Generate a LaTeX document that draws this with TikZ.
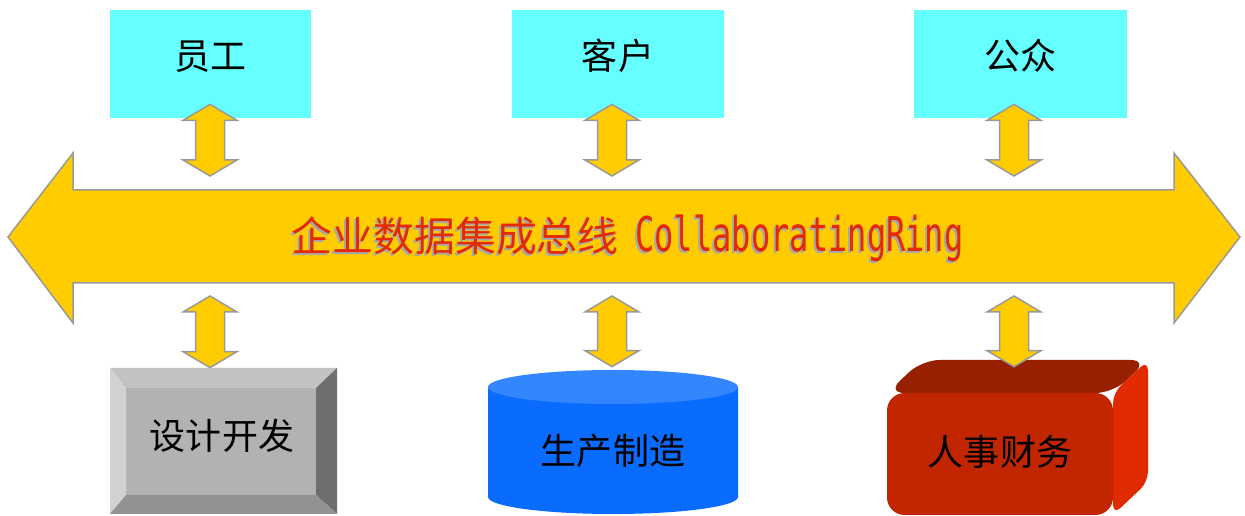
\documentclass[tikz,border=0pt]{standalone}
\usepackage{fontspec}
\setmainfont{Noto Sans CJK SC}
\newfontfamily\ringfont[Scale=1.17,FakeStretch=0.67]{DejaVu Sans Mono}
\usepackage{xcolor}
\definecolor{skycyan}{HTML}{66FFFF}
\definecolor{busyellow}{HTML}{FFCC00}
\definecolor{edgegray}{HTML}{999999}
\definecolor{ringred}{HTML}{E42A00}
\definecolor{shadowgray}{HTML}{A8A8A8}
\definecolor{bevellight}{HTML}{D2D2D2}
\definecolor{beveltop}{HTML}{C2C2C2}
\definecolor{bevelface}{HTML}{B2B2B2}
\definecolor{bevelbottom}{HTML}{929292}
\definecolor{beveldark}{HTML}{6E6E6E}
\definecolor{drumblue}{HTML}{0A6CFF}
\definecolor{drumtop}{HTML}{3486FF}
\definecolor{boxfront}{HTML}{C22600}
\definecolor{boxtop}{HTML}{962000}
\definecolor{boxside}{HTML}{E02A00}
\usetikzlibrary{calc}
\newcommand{\px}{0.02cm}
\newcommand{\ringtext}{企业数据集成总线\hspace{0.4em}{\ringfont CollaboratingRing}}
\newcommand{\updown}[2]{% #1 top tip, #2 bottom tip
  \draw[linkarrow] (#1) -- ++(27,16) -- ++(-12.5,0) -- ($(#2)+(14.5,-16)$) -- ++(12.5,0) -- (#2)
    -- ++(-27,-16) -- ++(12.5,0) -- ($(#1)+(-14.5,16)$) -- ++(-12.5,0) -- cycle;}

\begin{document}
\begin{tikzpicture}[x=\px,y=-\px,every node/.style={inner sep=0},
    topbox/.style={fill=skycyan,minimum height=108*\px,text height=0.8em,text depth=0.14em,
        font=\fontsize{20.5}{24}\selectfont},
    unitbox/.style={minimum width=226*\px,font=\fontsize{20.5}{24}\selectfont},
    ringlabel/.style={font=\fontsize{23.3}{26}\selectfont},
    linkarrow/.style={fill=busyellow,draw=edgegray,line width=1.5*\px}]
        \useasboundingbox (0,0) rectangle (1245,516);
        
        \node[topbox,minimum width=201*\px] (yuangong) at (210.5,64) {员工};
        \node[topbox,minimum width=212*\px] (kehu) at (618,64) {客户};
        \node[topbox,minimum width=213*\px] (gongzhong) at (1020.5,64) {公众};
        
        % bus
        \draw[linkarrow] (8,237) -- (73,153) -- (73,190) -- (1174,190) -- (1174,153) -- (1240,237)
            -- (1174,323) -- (1174,283) -- (73,283) -- (73,323) -- cycle;
        \node[ringlabel,text=shadowgray] (busshadow) at (625.5,240) {\ringtext};
        \node[ringlabel,text=ringred] (bus) at (627.5,238) {\ringtext};
        
        % bevel box
        \fill[bevelface] (126,388) rectangle (316,495);
        \fill[beveltop] (110,368) -- (337,368) -- (316,388) -- (126,388) -- cycle;
        \fill[bevellight] (110,368) -- (126,388) -- (126,495) -- (110,514) -- cycle;
        \fill[beveldark] (337,368) -- (337,514) -- (316,495) -- (316,388) -- cycle;
        \fill[bevelbottom] (110,514) -- (337,514) -- (316,495) -- (126,495) -- cycle;
        \node[unitbox,minimum height=136*\px] (sheji) at (222,436) {设计开发};
        
        % drum
        \fill[drumblue] (488,387) -- (488,497) arc[start angle=180,end angle=0,x radius=125,y radius=17]
            -- (738,387) -- cycle;
        \fill[drumtop] (613,387) ellipse[x radius=125,y radius=17];
        \node[unitbox,minimum height=168*\px] (shengchan) at (613,451) {生产制造};
        
        % block
        \fill[boxtop,rounded corners=10] (887,393) -- (922,360) -- (1148,360) -- (1113,393) -- cycle;
        \fill[boxside,rounded corners=6] (1113,393) -- (1148,360) -- (1148,482) -- (1113,515) -- cycle;
        \fill[boxfront,rounded corners=10] (887,393) rectangle (1113,515);
        \node[unitbox,minimum height=170*\px] (renshi) at (1000,452) {人事财务};
        
        \foreach \i/\x/\up/\down in {1/210/yuangong/sheji,2/612/kehu/shengchan,3/1014/gongzhong/renshi}{
            \coordinate (busN\i) at (\x,190);
            \coordinate (busS\i) at (\x,283);
            \coordinate (topA\i) at ($(\up.south -| busN\i)+(0,-14)$);
            \coordinate (topB\i) at ($(busN\i)+(0,-14)$);
            \coordinate (botA\i) at ($(busS\i)+(0,13)$);
            \coordinate (botB\i) at (\down.north -| busS\i);
            \updown{topA\i}{topB\i}
            \updown{botA\i}{botB\i}
        }
        
    \end{tikzpicture}
\end{document}
